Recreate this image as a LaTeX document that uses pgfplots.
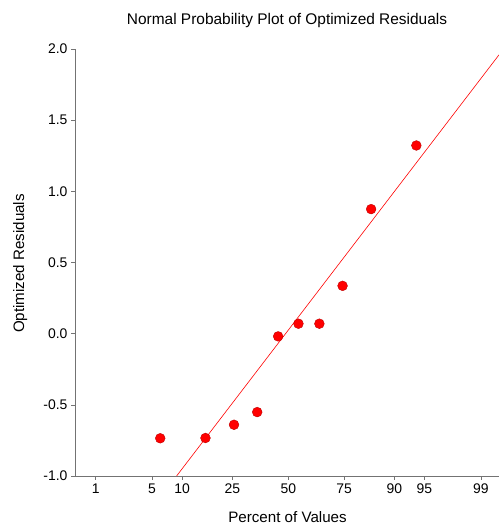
\documentclass[border=0pt]{standalone}
\usepackage{fontspec}
\setmainfont{Liberation Sans}
\usepackage{pgfplots}
\pgfplotsset{compat=1.18}
\begin{document}
\begin{tikzpicture}[x=1bp,y=1bp]
\path[use as bounding box] (0,0) rectangle (499,527);
\begin{axis}[
  at={(75bp,51bp)}, anchor=south west,
  scale only axis, width=424bp, height=427bp,
  xmin=-2.576, xmax=2.545, ymin=-1, ymax=2,
  axis x line*=bottom, axis y line*=left,
  axis line style={draw=black!55, line width=0.6pt, -},
  tick align=outside, major tick length=4bp,
  tick style={draw=black!55, line width=0.6pt},
  xtick={-2.3263,-1.6449,-1.2816,-0.6745,0,0.6745,1.2816,1.6449,2.3263},
  xticklabels={1,5,10,25,50,75,90,95,99},
  ytick={-1,-0.5,0,0.5,1,1.5,2},
  yticklabels={-1.0,-0.5,0.0,0.5,1.0,1.5,2.0},
  ticklabel style={font=\fontsize{14}{16}\selectfont},
  clip=true,
]
\addplot[only marks, mark=*, mark size=4.9bp,
  mark options={fill=red, draw=red!75!black, line width=0.4pt}]
  coordinates {
  (-1.5466,-0.735) (-1.0003,-0.733) (-0.6554,-0.640) (-0.3755,-0.551)
  (-0.1226,-0.019) (0.1226,0.070) (0.3755,0.070) (0.6554,0.336)
  (1.0003,0.875) (1.5466,1.322)
  };
\addplot[red, line width=0.6pt] coordinates {(-1.349,-1.0) (2.545,1.959)};
\end{axis}
\node[font=\fontsize{15.5}{18}\selectfont, anchor=base] at (287,502) {Normal Probability Plot of Optimized Residuals};
\node[font=\fontsize{15.2}{18}\selectfont, anchor=base] at (287.5,4.5) {Percent of Values};
\node[font=\fontsize{15.2}{18}\selectfont, rotate=90, anchor=base] at (24,263.5) {Optimized Residuals};
\end{tikzpicture}
\end{document}
